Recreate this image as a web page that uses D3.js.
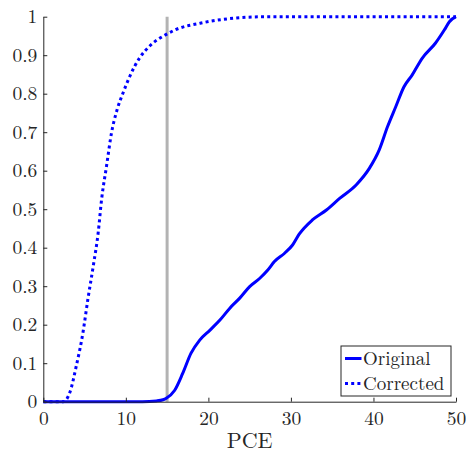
<!DOCTYPE html>
<html>
<head>
<meta charset="utf-8">
<script src="https://cdn.jsdelivr.net/npm/d3@7"></script>
</head>
<body style="margin:0">
<script>
// values
const origX = [0, 12, 13.7, 14.5, 14.9, 15.9, 16.9, 17.9, 18.95, 20.2, 21.4, 22.6, 23.8, 25, 26.2, 27.2, 28, 29.2, 30.2, 31.0, 32.6, 34.3, 35.9, 37.9, 39.5, 40.7, 41.7, 42.7, 43.7, 44.7, 45.9, 47.5, 48.6, 49.2, 50];
const origY = [0, 0, 0.002, 0.005, 0.009, 0.029, 0.074, 0.126, 0.16, 0.186, 0.212, 0.243, 0.269, 0.299, 0.32, 0.342, 0.364, 0.385, 0.407, 0.435, 0.472, 0.498, 0.528, 0.563, 0.606, 0.654, 0.714, 0.766, 0.818, 0.849, 0.892, 0.931, 0.966, 0.987, 1.0];
const corrX = [0, 2.4, 3.2, 4.0, 4.8, 5.4, 6.05, 6.65, 7.06, 7.66, 8.27, 8.95, 9.68, 10.5, 11.7, 12.9, 14.9, 16.1, 19, 23, 27, 50];
const corrY = [0, 0, 0.023, 0.093, 0.179, 0.266, 0.352, 0.439, 0.525, 0.612, 0.699, 0.759, 0.803, 0.846, 0.894, 0.924, 0.954, 0.967, 0.983, 0.996, 1.0, 1.0];
const threshold = 15;
const xTicks = [0, 10, 20, 30, 40, 50];
const yTicks = [0, 0.1, 0.2, 0.3, 0.4, 0.5, 0.6, 0.7, 0.8, 0.9, 1];
const legendNames = ['Original', 'Corrected'];

const w = 466;
const h = 453;
const mLeft = 43.3, mRight = 456, mTop = 16.7, mBottom = 401.7;
const font = "'Latin Modern Roman', 'Liberation Serif', serif";
const ink = '#262626';

const xScale = d3.scaleLinear().domain([0, 50]).range([mLeft, mRight]);
const yScale = d3.scaleLinear().domain([0, 1]).range([mBottom, mTop]);

const svg = d3.select('body').append('svg').attr('width', w).attr('height', h).style('display', 'block');

// threshold line
svg.append('line')
   .attr('x1', xScale(threshold)).attr('x2', xScale(threshold))
   .attr('y1', yScale(0)).attr('y2', yScale(1))
   .attr('stroke', '#b3b3b3').attr('stroke-width', 3);

const line = d3.line().x(d => xScale(d[0])).y(d => yScale(d[1])).curve(d3.curveMonotoneX);

svg.append('path')
   .datum(corrX.map((x, i) => [x, corrY[i]]))
   .attr('d', line)
   .attr('fill', 'none').attr('stroke', '#0000ff').attr('stroke-width', 3)
   .attr('stroke-dasharray', '3,3.2');

svg.append('path')
   .datum(origX.map((x, i) => [x, origY[i]]))
   .attr('d', line)
   .attr('fill', 'none').attr('stroke', '#0000ff').attr('stroke-width', 3)
   .attr('stroke-linejoin', 'round');

const xAxis = d3.axisBottom(xScale).tickValues(xTicks).tickSizeInner(-4).tickSizeOuter(0).tickPadding(9).tickFormat(d3.format('d'));
const yAxis = d3.axisLeft(yScale).tickValues(yTicks).tickSizeInner(-4).tickSizeOuter(0).tickPadding(6).tickFormat(d => (d === 0 || d === 1) ? d : d.toFixed(1));

const gx = svg.append('g')
   .attr('transform', 'translate(0,' + mBottom + ')')
   .call(xAxis)
   .attr('font-family', font).attr('font-size', 19.5);
const gy = svg.append('g')
   .attr('transform', 'translate(' + mLeft + ',0)')
   .call(yAxis)
   .attr('font-family', font).attr('font-size', 19.5);
[gx, gy].forEach(g => {
  g.selectAll('path, line').attr('stroke', ink);
  g.selectAll('text').attr('fill', ink);
});

svg.append('text').text('PCE')
   .attr('x', (mLeft + mRight) / 2).attr('y', 447.5)
   .attr('text-anchor', 'middle')
   .attr('font-family', font).attr('font-size', 22).attr('fill', ink);

// legend
const lg = svg.append('g');
lg.append('rect').attr('x', 341).attr('y', 346).attr('width', 110).attr('height', 50)
  .attr('fill', '#fff').attr('stroke', ink).attr('stroke-width', 1);
legendNames.forEach((name, i) => {
  const y = 358.5 + i * 25;
  lg.append('line').attr('x1', 345).attr('x2', 361.5).attr('y1', y).attr('y2', y)
    .attr('stroke', '#0000ff').attr('stroke-width', 3)
    .attr('stroke-dasharray', i === 1 ? '3,3.2' : null);
  lg.append('text').text(name).attr('x', 363).attr('y', y + 6)
    .attr('font-family', font).attr('font-size', 19).attr('fill', ink);
});
</script>
</body>
</html>
